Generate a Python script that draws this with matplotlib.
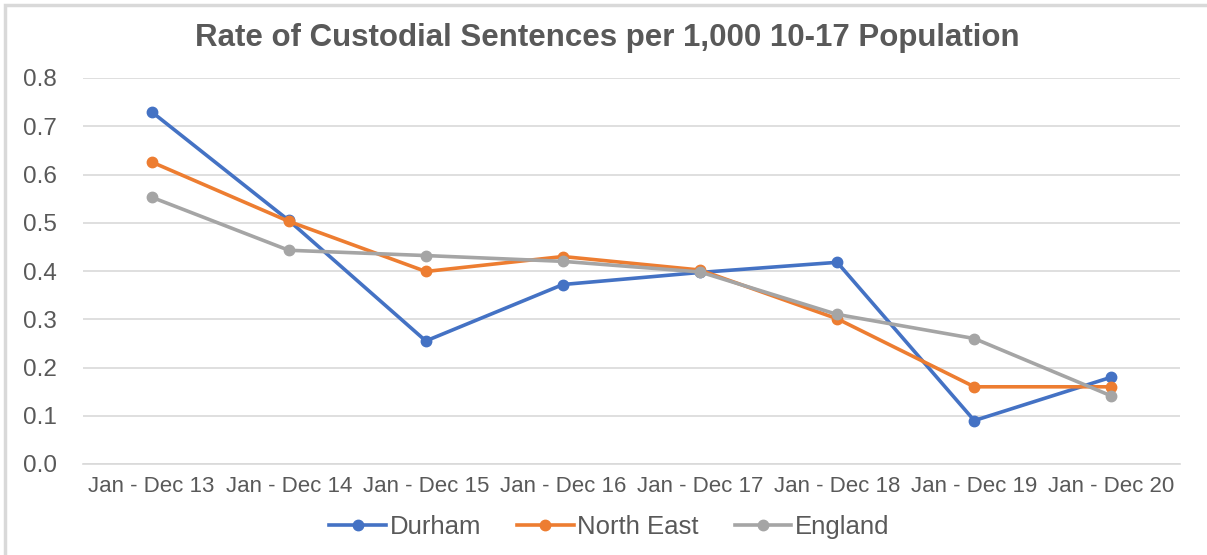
import matplotlib.pyplot as plt
from matplotlib.patches import Rectangle

plt.rcParams['font.family'] = ['Liberation Sans', 'DejaVu Sans']

periods = ['Jan - Dec 13', 'Jan - Dec 14', 'Jan - Dec 15', 'Jan - Dec 16',
           'Jan - Dec 17', 'Jan - Dec 18', 'Jan - Dec 19', 'Jan - Dec 20']
durham = [0.73, 0.505, 0.255, 0.372, 0.397, 0.418, 0.09, 0.18]
north_east = [0.626, 0.503, 0.399, 0.43, 0.402, 0.301, 0.16, 0.16]
england = [0.553, 0.443, 0.432, 0.42, 0.398, 0.31, 0.26, 0.141]

fig = plt.figure(figsize=(12.07, 5.55), dpi=100)
ax = fig.add_axes([83/1207, 1-464/555, 1097/1207, 386/555])

x = range(len(periods))
ax.plot(x, durham, color='#4472C4', lw=2.6, marker='o', ms=7.5, label='Durham', zorder=3)
ax.plot(x, north_east, color='#ED7D31', lw=2.6, marker='o', ms=7.5, label='North East', zorder=3)
ax.plot(x, england, color='#A5A5A5', lw=2.6, marker='o', ms=7.5, label='England', zorder=3)

ax.set_xlim(-0.5, len(periods) - 0.5)
ax.set_ylim(0, 0.8)
ax.set_yticks([i/10 for i in range(9)])
ax.set_yticklabels(['%.1f' % (i/10) for i in range(9)])
ax.set_xticks(list(x))
ax.set_xticklabels(periods)
ax.grid(axis='y', color='#D9D9D9', lw=1.2)
ax.set_axisbelow(True)
for s in ['top', 'right', 'left']:
    ax.spines[s].set_visible(False)
ax.spines['bottom'].set_color('#D9D9D9')
ax.spines['bottom'].set_linewidth(1.2)
ax.tick_params(axis='both', length=0, colors='#595959')
ax.tick_params(axis='y', labelsize=17.5, pad=19)
ax.tick_params(axis='x', labelsize=16, pad=9)

fig.text(0.503, 1-38/555, 'Rate of Custodial Sentences per 1,000 10-17 Population',
         ha='center', va='center', fontsize=22.5, fontweight='bold', color='#595959')

fig.legend(loc='center', bbox_to_anchor=(0.505, 1-527/555), ncol=3, frameon=False,
           fontsize=18.5, labelcolor='#595959', handlelength=2.2, handletextpad=0.15,
           columnspacing=1.4)

fig.add_artist(Rectangle((5/1207, -0.1), 1.2, 1-5/555+0.1, transform=fig.transFigure,
                         fill=False, edgecolor='#D9D9D9', lw=2.5))

fig.savefig('out.png', dpi=100)
